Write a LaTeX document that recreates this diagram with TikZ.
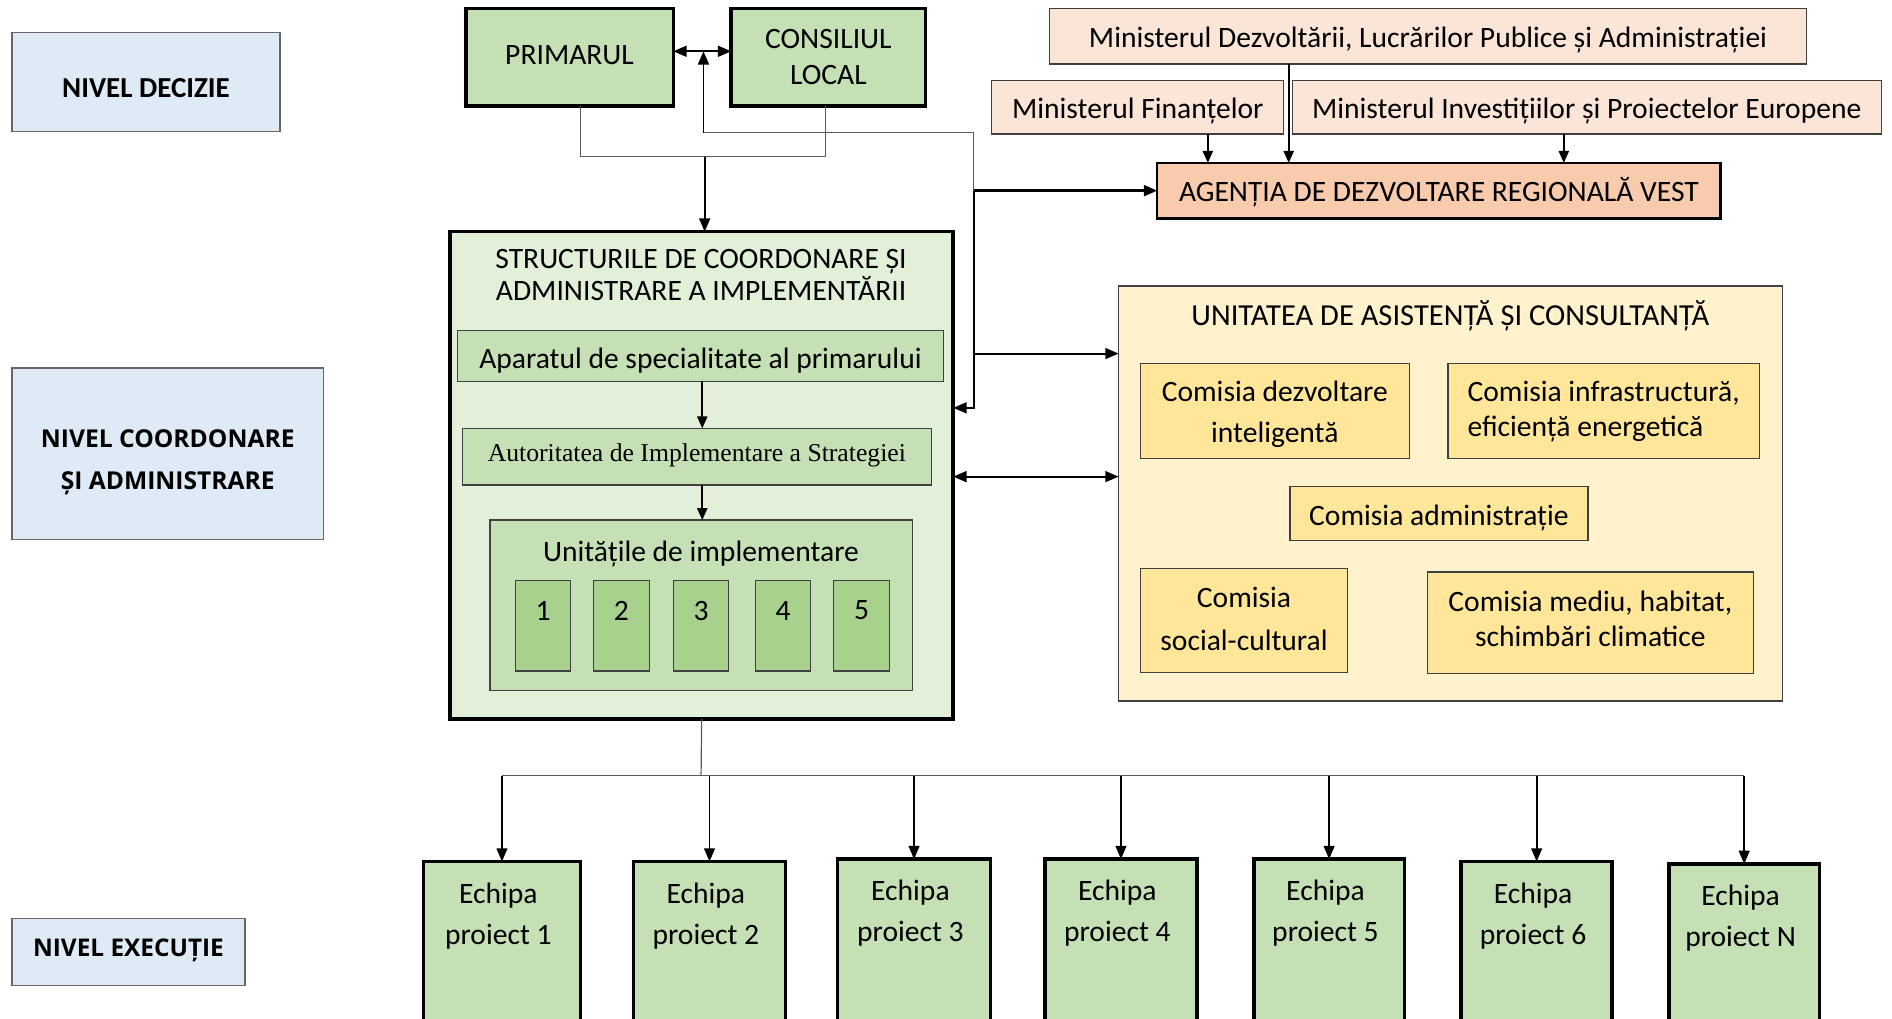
\documentclass[tikz,border=0pt]{standalone}
\usepackage{fontspec}
\setmainfont{Carlito}
\newfontfamily\serifA{Liberation Serif}
\newfontfamily\opensans{Open Sans}
\usetikzlibrary{arrows.meta}
\definecolor{lblue}{HTML}{DEEBF7}
\definecolor{grA}{HTML}{C5E0B4}
\definecolor{grL}{HTML}{E2F0D9}
\definecolor{grD}{HTML}{A9D18E}
\definecolor{peach}{HTML}{FBE5D6}
\definecolor{ora}{HTML}{F8CBAD}
\definecolor{yeL}{HTML}{FFF2CC}
\definecolor{yeD}{HTML}{FFE699}
% \bx[text shift]{name}{x1}{y1}{x2}{y2}{style}{text}
\newcommand\bx[8][0pt]{%
  \node[#7, minimum width={(#5)-(#3)}, minimum height={(#6)-(#4)}] (#2) at ({((#3)+(#5))/2},{((#4)+(#6))/2}) {};%
  \node[#7, draw=none, fill=none, minimum width=0pt, minimum height=0pt] (#2t) at ([yshift=#1]#2.center) {#8};}
\begin{document}
\begin{tikzpicture}[x=1pt,y=-1pt,
 base/.style={inner sep=0pt, outer sep=0pt, align=center, font=\fontsize{24.5}{32}\selectfont},
 lvl/.style={base, draw=black!60, line width=1pt, fill=lblue},
 thickbox/.style={base, draw=black, line width=3pt, fill=grA},
 thinb/.style={base, draw=black!75, line width=1pt},
 tip/.tip={Triangle[length=11pt,width=9pt]},
 arr/.style={line width=1.6pt, -tip},
 arrs/.style={line width=1.4pt, -{Triangle[length=10pt,width=8.5pt]}},
 arrb/.style={line width=1.6pt, tip-tip},
 con/.style={line width=1pt, draw=black!65}]

\useasboundingbox (0,0) rectangle (1568,844);
\clip (0,0) rectangle (1568,844);
\fill[white] (0,0) rectangle (1568,844);

% level labels
\bx[-5pt]{nd}{10}{27}{232}{109}{lvl, font=\fontsize{24}{32}\selectfont\bfseries}{NIVEL DECIZIE}
\bx[-7pt]{nc}{10}{305}{268}{447}{lvl, font=\opensans\fontsize{20.4}{35}\selectfont\bfseries}{NIVEL COORDONARE\\ȘI ADMINISTRARE}
\bx[1pt]{ne}{10}{761}{203}{817}{lvl, font=\opensans\fontsize{20.2}{32}\selectfont\bfseries}{NIVEL EXECUȚIE}

% decision level
\bx[2pt]{prim}{386}{7}{558}{88}{thickbox}{PRIMARUL}
\bx{cons}{606}{7}{767}{88}{thickbox, font=\fontsize{24.5}{30}\selectfont}{CONSILIUL\\LOCAL}

% ministries
\bx[-3pt]{md}{870}{7}{1497}{53}{thinb, fill=peach}{Ministerul Dezvoltării, Lucrărilor Publice și Administrației}
\bx[-3pt]{mf}{822}{67}{1064}{111}{thinb, fill=peach}{Ministerul Finanțelor}
\bx[-3pt]{mi}{1071}{67}{1559}{111}{thinb, fill=peach}{Ministerul Investițiilor și Proiectelor Europene}
\bx[-1pt]{ag}{959}{135}{1426}{181}{base, draw=black, line width=2pt, fill=ora}{AGENȚIA DE DEZVOLTARE REGIONALĂ VEST}

% coordination structure
\bx{str}{373}{192}{790}{596}{thickbox, fill=grL}{}
\node[base, font=\fontsize{24.5}{27}\selectfont] (strt) at (581,228) {STRUCTURILE DE COORDONARE ȘI\\ADMINISTRARE A IMPLEMENTĂRII};
\bx[-4pt]{ap}{379}{274}{782}{316}{thinb, fill=grA}{Aparatul de specialitate al primarului}
\bx[1pt]{au}{383}{355}{772}{402}{thinb, fill=grA, font=\serifA\fontsize{21.3}{24}\selectfont}{Autoritatea de Implementare a Strategiei}
\bx{un}{406}{431}{756}{572}{thinb, fill=grA}{}
\node[base] (unt) at (581,459) {Unitățile de implementare};
\bx{u1}{427}{481}{473}{556}{thinb, fill=grD}{}
\bx{u2}{492}{481}{538}{556}{thinb, fill=grD}{}
\bx{u3}{558}{481}{604}{556}{thinb, fill=grD}{}
\bx{u4}{626}{481}{672}{556}{thinb, fill=grD}{}
\bx{u5}{691}{481}{737}{556}{thinb, fill=grD}{}
\foreach \i in {1,...,5} {\node[base] (n\i) at (u\i.north |- 0,506) {\i};}

% assistance unit
\bx{ua}{927}{237}{1477}{581}{thinb, fill=yeL}{}
\node[base, font=\fontsize{25.3}{32}\selectfont] (uat) at (1202,262) {UNITATEA DE ASISTENȚĂ ȘI CONSULTANȚĂ};
\bx[-3pt]{c1}{945}{301}{1168}{380}{thinb, fill=yeD, font=\fontsize{24.5}{34}\selectfont}{Comisia dezvoltare\\inteligentă}
\bx[-0.5pt]{c2}{1200}{301}{1458}{380}{thinb, fill=yeD, align=left, font=\fontsize{24.5}{29}\selectfont}{Comisia infrastructură,\\eficiență energetică}
\bx[-4pt]{c3}{1069}{403}{1316}{448}{thinb, fill=yeD}{Comisia administrație}
\bx[1pt]{c4}{945}{471}{1117}{557}{thinb, fill=yeD, font=\fontsize{24.5}{35}\selectfont}{Comisia\\social-cultural}
\bx[3pt]{c5}{1183}{474}{1453}{558}{thinb, fill=yeD, font=\fontsize{24.5}{29}\selectfont}{Comisia mediu, habitat,\\schimbări climatice}

% execution teams
\bx{e1}{351}{714}{481}{880}{thickbox}{}
\bx{e2}{525}{714}{651}{880}{thickbox}{}
\bx{e3}{694}{712}{821}{880}{thickbox}{}
\bx{e4}{866}{712}{992}{880}{thickbox}{}
\bx{e5}{1039}{712}{1164}{880}{thickbox}{}
\bx{e6}{1211}{714}{1336}{880}{thickbox}{}
\bx{eN}{1383}{716}{1508}{880}{thickbox}{}
\foreach \n/\yy in {1/759,2/759,3/757,4/757,5/757,6/759,N/761}
  {\node[base, font=\fontsize{24.5}{34}\selectfont] (lab\n) at ([xshift=-3pt]e\n.north |- 0,\yy) {Echipa\\proiect \n};}

% connectors: decision level
\coordinate (dl) at ([yshift=5pt]prim.east);
\coordinate (dr) at ([yshift=5pt]cons.west);
\draw[arrb] (dl) -- (dr);
\coordinate (pj) at (584,130);
\draw[con] ([xshift=9pt]prim.south) |- (pj) -| ([xshift=-2.5pt]cons.south);
\draw[arr] (pj) -- (pj |- str.north);

% vertical feedback line
\coordinate (vt) at (807,110);
\coordinate (va) at (807,158);
\coordinate (up) at (583,110);
\draw[con] (va) -- (vt) -- (up);
\draw[arr] (up) -- (up |- dl);
\draw[arr, line width=2pt] (va) -- (ag.west);
\draw[arr] (va) |- (str.east |- 0,338);
\draw[arr] (va |- 0,293) -- (ua.west |- 0,293);
\draw[arrb] (str.east |- 0,395) -- (ua.west |- 0,395);

% ministries to agency
\draw[arrs] (mf.south -| 1001,0) -- (ag.north -| 1001,0);
\draw[arrs] (md.south -| 1068,0) -- (ag.north -| 1068,0);
\draw[arrs] (mi.south -| 1296,0) -- (ag.north -| 1296,0);

% inner structure
\draw[arrs] (ap.south -| 582,0) -- (au.north -| 582,0);
\draw[arrs] (au.south -| 582,0) -- (un.north -| 582,0);

% execution bus
\coordinate (bj) at (581,643);
\draw[con] (str.south) -- (bj);
\draw[con] (e1.north |- bj) -- (eN.north |- bj);
\foreach \n in {1,2,3,4,5,6,N} {\draw[arrs, -{Triangle[length=11pt,width=9pt]}] (e\n.north |- bj) -- (e\n.north);}
\end{tikzpicture}
\end{document}
